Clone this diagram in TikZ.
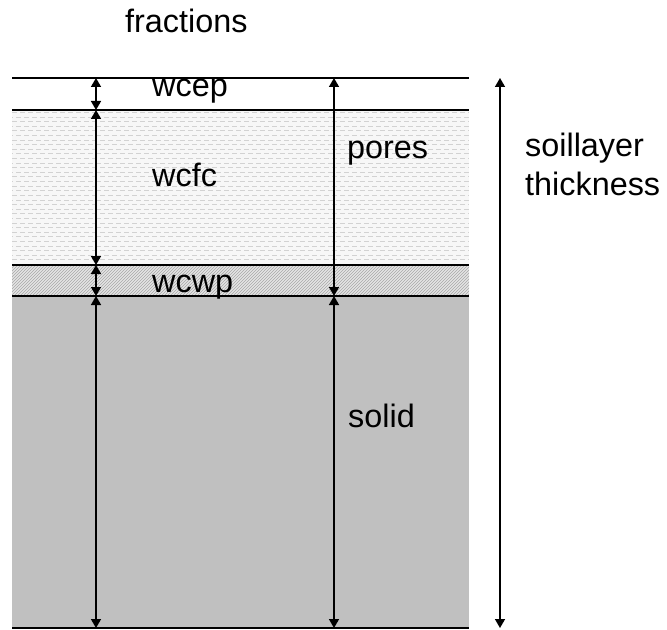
\documentclass[tikz,border=0pt]{standalone}
\usepackage{fontspec}
\setmainfont{Liberation Sans}
\usetikzlibrary{arrows.meta}
\definecolor{solidgray}{HTML}{C0C0C0}
\definecolor{hatchbg}{HTML}{E4E4E4}
\definecolor{hatchln}{HTML}{A8A8A8}
\definecolor{dashln}{HTML}{D2D2D2}
\definecolor{porebg}{HTML}{F7F7F7}
\begin{document}
\begin{tikzpicture}[x=1bp,y=-1bp,
  lbl/.style={anchor=base west,inner sep=0pt,font=\fontsize{32.5}{39}\selectfont},
  layerline/.style={line width=1.8bp,black},
  dim/.style={line width=1.5bp,{Triangle[width=10bp,length=9bp]}-{Triangle[width=10bp,length=9bp]}}]
\useasboundingbox (0,0) rectangle (667,630);
% layer backgrounds
\fill[porebg] (12,110) rectangle (469,265);
\foreach \i in {0,...,33}{
  \pgfmathsetmacro{\yy}{112.5+4.6*\i}
  \pgfmathsetmacro{\ph}{mod(\i,2)*4}
  \draw[dashln,line width=0.8bp,dash pattern=on 5bp off 3bp,dash phase=\ph bp] (12,\yy) -- (469,\yy);
}
\fill[hatchbg] (12,265) rectangle (469,296);
\begin{scope}
  \clip (12,265) rectangle (469,296);
  \foreach \x in {-40,-37,...,470}{
    \draw[hatchln,line width=0.5bp] (\x,296) -- ++(31,-31);
  }
\end{scope}
\fill[solidgray] (12,296) rectangle (469,628);
% layer boundaries
\coordinate (l0w) at (12,78);  \coordinate (l0e) at (469,78);
\coordinate (l1w) at (12,110); \coordinate (l1e) at (469,110);
\coordinate (l2w) at (12,265); \coordinate (l2e) at (469,265);
\coordinate (l3w) at (12,296); \coordinate (l3e) at (469,296);
\coordinate (l4w) at (12,628); \coordinate (l4e) at (469,628);
\draw[layerline] (l0w) -- (l0e);
\draw[layerline] (l1w) -- (l1e);
\draw[layerline] (l2w) -- (l2e);
\draw[layerline] (l3w) -- (l3e);
\draw[layerline] (l4w) -- (l4e);
% dimension arrow end points
\coordinate (a0) at (96,78);
\coordinate (a1) at (96,110);
\coordinate (a2) at (96,265);
\coordinate (a3) at (96,296);
\coordinate (a4) at (96,628);
\coordinate (b0) at (334,78);
\coordinate (b1) at (334,296);
\coordinate (b2) at (334,628);
\coordinate (c0) at (500,78);
\coordinate (c1) at (500,628);
\draw[dim] (a0) -- (a1);
\draw[dim] (a1) -- (a2);
\draw[dim] (a2) -- (a3);
\draw[dim] (a3) -- (a4);
\draw[dim] (b0) -- (b1);
\draw[dim] (b1) -- (b2);
\draw[dim] (c0) -- (c1);
% labels
\node[lbl] (fr) at (125,33) {fractions};
\node[lbl] (ep) at (152,97) {wcep};
\node[lbl] (fc) at (152,187) {wcfc};
\node[lbl] (wp) at (152,292) {wcwp};
\node[lbl] (po) at (347,159) {pores};
\node[lbl] (so) at (348,427) {solid};
\node[lbl] (sl) at (525,157) {soillayer};
\node[lbl] (th) at (525,196) {thickness};
\end{tikzpicture}
\end{document}
